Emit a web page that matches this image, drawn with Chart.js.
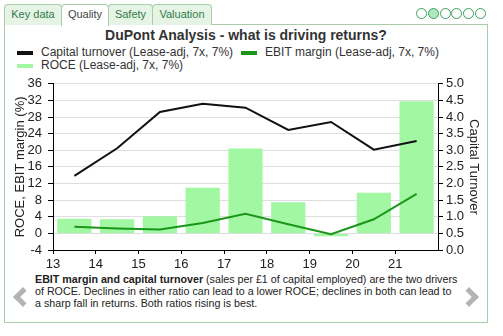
<!DOCTYPE html>
<html>
<head>
<meta charset="utf-8">
<script src="https://cdn.jsdelivr.net/npm/chart.js@4.4.1/dist/chart.umd.min.js"></script>
<style>
  body { margin: 0; width: 503px; height: 336px; position: relative; overflow: hidden; background: #fff;
         font-family: "Liberation Sans", Arial, sans-serif; color: #222; }
  .tab { position: absolute; top: 4px; height: 21px; box-sizing: border-box; background: #e6f4e6;
         border: 1px solid #a9cca9; border-bottom: none; border-radius: 4px 4px 0 0;
         font-size: 11px; line-height: 19px; text-align: center; color: #2f7b47; }
  .tab.active { background: #fff; color: #444; z-index: 2; height: 22px; }
  .panel { position: absolute; left: 4px; top: 24px; width: 484px; height: 299px; box-sizing: border-box;
           border: 1px solid #a9cca9; }
  .dot { position: absolute; top: 8px; width: 11px; height: 11px; box-sizing: border-box;
         border: 1px solid #3aa35c; border-radius: 50%; background: #fff; }
  .dot.on { background: #aee9c0; }
  .title { position: absolute; left: 4px; width: 484px; top: 27px; text-align: center;
           font-weight: bold; font-size: 14px; line-height: 16px; color: #333; }
  #legend { position: absolute; left: 17px; top: 46px; width: 440px; display: flex; flex-wrap: wrap;
            font-size: 12px; line-height: 13px; color: #333; }
  #legend .item { display: flex; align-items: center; margin-right: 8px; white-space: nowrap; }
  #legend .swatch { width: 16px; height: 4px; margin-right: 8px; }
  #chart { position: absolute; left: 5px; top: 70px; }
  .note { position: absolute; left: 35px; top: 273px; font-size: 10.7px; line-height: 12.2px; color: #222;
          white-space: nowrap; }
  .chev { position: absolute; top: 290px; width: 9px; height: 9px; border: solid #b3b3b3; }
  .chev.left { left: 16px; border-width: 0 0 5px 5px; transform: rotate(45deg); }
  .chev.right { left: 462px; border-width: 5px 5px 0 0; transform: rotate(45deg); }
</style>
</head>
<body>
<div class="panel"></div>
<div class="tab" style="left:4px;width:58px">Key data</div>
<div class="tab active" style="left:61px;width:48px">Quality</div>
<div class="tab" style="left:108px;width:45px">Safety</div>
<div class="tab" style="left:152px;width:60px">Valuation</div>

<div class="dot" style="left:416px"></div>
<div class="dot on" style="left:428px"></div>
<div class="dot" style="left:440px"></div>
<div class="dot" style="left:451px"></div>
<div class="dot" style="left:463px"></div>
<div class="dot" style="left:475px"></div>

<div class="title">DuPont Analysis - what is driving returns?</div>
<div id="legend"></div>
<canvas id="chart" width="482" height="200"></canvas>

<div class="note"><b>EBIT margin and capital turnover</b> (sales per £1 of capital employed) are the two drivers<br>of ROCE. Declines in either ratio can lead to a lower ROCE; declines in both can lead to<br>a sharp fall in returns. Both ratios rising is best.</div>
<div class="chev left"></div>
<div class="chev right"></div>

<script>
// financial years, plotted at the middle of each year on the axis
const periods = [13.5, 14.5, 15.5, 16.5, 17.5, 18.5, 19.5, 20.5, 21.5];
const capitalTurnover = [2.23, 3.06, 4.15, 4.4, 4.28, 3.61, 3.85, 3.02, 3.28];
const ebitMargin = [1.6, 1.2, 0.95, 2.5, 4.7, 2.2, -0.2, 3.4, 9.5];
const roce = [3.5, 3.4, 4.1, 11.0, 20.4, 7.5, -0.7, 9.8, 31.8];

const yearTicks = [13, 14, 15, 16, 17, 18, 19, 20, 21];

const toPoints = (values) => values.map((v, i) => ({ x: periods[i], y: v }));

const font = { family: '"Liberation Sans", Arial, sans-serif', size: 13 };

const chart = new Chart(document.getElementById('chart'), {
  type: 'bar',
  data: {
    datasets: [
      {
        type: 'line',
        label: 'Capital turnover (Lease-adj, 7x, 7%)',
        data: toPoints(capitalTurnover),
        yAxisID: 'yRight',
        borderColor: '#111',
        backgroundColor: '#111',
        borderWidth: 2,
        pointRadius: 0,
        tension: 0,
      },
      {
        type: 'line',
        label: 'EBIT margin (Lease-adj, 7x, 7%)',
        data: toPoints(ebitMargin),
        yAxisID: 'y',
        borderColor: '#1a961a',
        backgroundColor: '#1a961a',
        borderWidth: 2,
        pointRadius: 0,
        tension: 0,
      },
      {
        label: 'ROCE (Lease-adj, 7x, 7%)',
        data: toPoints(roce),
        yAxisID: 'y',
        backgroundColor: 'rgb(162, 247, 162)',
        borderWidth: 0,
        barPercentage: 0.8,
        categoryPercentage: 1,
      },
    ],
  },
  options: {
    responsive: false,
    devicePixelRatio: 1,
    animation: false,
    layout: { padding: { top: 10, left: 0, right: 0, bottom: 0 } },
    plugins: {
      legend: { display: false },
      tooltip: { enabled: false },
    },
    scales: {
      x: {
        type: 'linear',
        min: 13,
        max: 22,
        offset: false,
        afterBuildTicks(scale) {
          scale.ticks = yearTicks.map((v) => ({ value: v }));
        },
        afterFit(scale) {
          scale.height = 20;
        },
        ticks: { font, color: '#222', padding: 3, autoSkip: false, maxRotation: 0, callback: (v) => String(v) },
        grid: { offset: false, drawOnChartArea: false, tickLength: 4, tickColor: '#000' },
        border: { color: '#000' },
      },
      y: {
        position: 'left',
        min: -4,
        max: 36,
        afterFit(scale) {
          scale.width = 48;
        },
        ticks: { stepSize: 4, font, color: '#222', padding: 6, autoSkip: false },
        grid: { color: '#dedede', tickLength: 5, tickColor: '#000' },
        border: { color: '#000' },
        title: {
          display: true,
          text: 'ROCE, EBIT margin (%)',
          font,
          color: '#222',
          padding: { top: 8, bottom: 0 },
        },
      },
      yRight: {
        position: 'right',
        min: 0,
        max: 5,
        afterFit(scale) {
          scale.width = 49;
        },
        ticks: { stepSize: 0.5, font, color: '#222', padding: 3, autoSkip: false, callback: (v) => v.toFixed(1) },
        grid: { drawOnChartArea: false, tickLength: 5, tickColor: '#000' },
        border: { color: '#000' },
        title: {
          display: true,
          text: 'Capital Turnover',
          font,
          color: '#222',
          padding: { top: 6, bottom: 0 },
        },
      },
    },
  },
});

// legend rows built from the chart's datasets
const legendEl = document.getElementById('legend');
chart.data.datasets.forEach((ds) => {
  const item = document.createElement('div');
  item.className = 'item';
  const swatch = document.createElement('span');
  swatch.className = 'swatch';
  swatch.style.background = ds.backgroundColor;
  const text = document.createElement('span');
  text.textContent = ds.label;
  item.appendChild(swatch);
  item.appendChild(text);
  legendEl.appendChild(item);
});
</script>
</body>
</html>
